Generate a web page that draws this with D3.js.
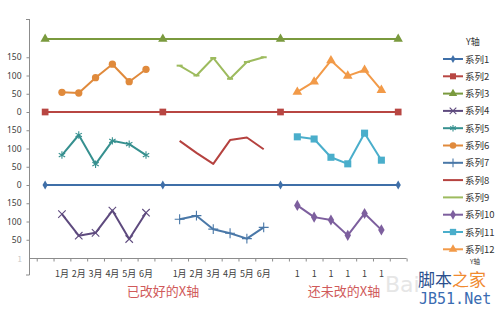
<!DOCTYPE html>
<html><head><meta charset="utf-8">
<script src="https://cdn.jsdelivr.net/npm/d3@7/dist/d3.min.js"></script>
<style>html,body{margin:0;padding:0;background:#fff;}svg{display:block;font-family:"Noto Sans CJK SC","Noto Sans",sans-serif;}</style>
</head><body><svg id="c" width="500" height="309"></svg>
<script>
// ---- data ----
const monthLabels = ["1月","2月","3月","4月","5月","6月"];
const rawLabels = ["1","1","1","1","1","1"];
const yTickValues = [50,100,150,200,250,300,350,400,450,500,550];
const yTickLabels = ["50","100","150","0","50","100","150","0","50","100","150"];
const seriesNames = ["系列1","系列2","系列3","系列4","系列5","系列6","系列7","系列8","系列9","系列10","系列11","系列12"];
const s1 = [200,200,200,200];
const s2 = [200,200,200,200];
const s3 = [200,200,200,200];
const s4 = [120,61,69,130,52,124];
const s5 = [82,137,57,121,112,82];
const s6 = [54,52,94,131,83,117];
const s7 = [106,116,79,68,53,84];
const s8 = [121,88,58,123,130,98];
const s9 = [127,100,148,91,137,150];
const s10 = [144,112,104,62,122,77];
const s11 = [132,126,76,58,142,68];
const s12 = [55,83,141,99,115,60];
const bandOffsets = [0,200,400];           // bottom, middle, top band
const divIdx = [0,7,14,21];               // category positions of divider series
const grp1 = [1,2,3,4,5,6], grp2 = [8,9,10,11,12,13], grp3 = [15,16,17,18,19,20];

// ---- styles ----
const colors = ["#3f6fa8","#b84642","#7a9a3e","#5e4a7e","#36908f","#e08a3c","#4a78a8","#b5423f","#9dbb5e","#7d5f9e","#4aaecb","#f29a48"];
const S = d3;
const markers = [
  {t:S.symbolDiamond,s:24,f:true},{t:S.symbolSquare,s:45,f:true},{t:S.symbolTriangle,s:38,f:true},
  {t:S.symbolTimes,s:38,f:false},{t:S.symbolAsterisk,s:38,f:false},{t:S.symbolCircle,s:42,f:true},
  {t:S.symbolPlus,s:34,f:false},null,{t:"dash"},
  {t:S.symbolDiamond,s:36,f:true},{t:S.symbolSquare,s:50,f:true},{t:S.symbolTriangle,s:40,f:true}
];
const series = [
  {v:s1,x:divIdx,b:0},{v:s2,x:divIdx,b:1},{v:s3,x:divIdx,b:2},
  {v:s4,x:grp1,b:0},{v:s5,x:grp1,b:1},{v:s6,x:grp1,b:2},
  {v:s7,x:grp2,b:0},{v:s8,x:grp2,b:1},{v:s9,x:grp2,b:2},
  {v:s10,x:grp3,b:0},{v:s11,x:grp3,b:1},{v:s12,x:grp3,b:2}
];

const svg = d3.select("#c");
const x = d3.scaleLinear().domain([-0.9,21.5]).range([30,406.6]);
const y = d3.scaleLinear().domain([0,600]).range([258,39]);

// ---- axes ----
const axisColor = "#8c8c8c", textColor = "#404040";
svg.append("line").attr("x1",29.5).attr("x2",29.5).attr("y1",19).attr("y2",275).attr("stroke",axisColor);
svg.append("line").attr("x1",26).attr("x2",29.5).attr("y1",19.5).attr("y2",19.5).attr("stroke",axisColor);
svg.append("line").attr("x1",26).attr("x2",29.5).attr("y1",275).attr("y2",275).attr("stroke",axisColor);
const yg = svg.append("g").attr("transform","translate(29.5,0)")
  .call(d3.axisLeft(y).tickValues(yTickValues).tickSize(3).tickPadding(5).tickFormat((d,i)=>yTickLabels[i]));
yg.select(".domain").remove();
yg.selectAll("line").attr("stroke",axisColor);
yg.selectAll("text").attr("fill",textColor).attr("font-size",8.5).attr("font-family","Noto Sans, sans-serif");
svg.append("text").attr("x",22).attr("y",262).attr("text-anchor","end").attr("font-size",8).attr("fill","#c8c8c8").text("1");

const xTicks = d3.range(-0.5,22,1);
const xg = svg.append("g").attr("transform",`translate(0,${y(0)+0.5})`)
  .call(d3.axisBottom(x).tickValues(xTicks).tickSize(3).tickFormat(""));
xg.select(".domain").attr("stroke",axisColor).attr("d",`M30,0H406.6`);
xg.selectAll("line").attr("stroke",axisColor);

const catLabels = [];
grp1.forEach((c,i)=>catLabels.push({c,t:monthLabels[i]}));
grp2.forEach((c,i)=>catLabels.push({c,t:monthLabels[i]}));
grp3.forEach((c,i)=>catLabels.push({c,t:rawLabels[i]}));
svg.selectAll(".cl").data(catLabels).enter().append("text")
  .attr("x",d=>x(d.c)).attr("y",277).attr("text-anchor","middle")
  .attr("font-size",9).attr("fill",textColor).text(d=>d.t);

// ---- series ----
const line = d3.line();
series.forEach((s,k)=>{
  const pts = s.v.map((v,i)=>[x(s.x[i]), y(v+bandOffsets[s.b])]);
  svg.append("path").attr("d",line(pts)).attr("fill","none")
    .attr("stroke",colors[k]).attr("stroke-width",2).attr("stroke-linejoin","round");
  const m = markers[k];
  if(!m) return;
  pts.forEach(p=>drawMarker(p[0],p[1],k,m));
});
function drawMarker(px,py,k,m){
  if(m.t==="dash"){
    svg.append("line").attr("x1",px-3).attr("x2",px+3).attr("y1",py).attr("y2",py)
      .attr("stroke",colors[k]).attr("stroke-width",2);
    return;
  }
  const p = svg.append("path").attr("d",d3.symbol().type(m.t).size(m.s)()).attr("transform",`translate(${px},${py})`);
  if(m.f) p.attr("fill",colors[k]);
  else p.attr("fill","none").attr("stroke",colors[k]).attr("stroke-width",1.1);
}

// ---- legend ----
svg.append("text").attr("x",466).attr("y",45).attr("font-size",9).attr("fill","#333").text("Y轴");
seriesNames.forEach((n,k)=>{
  const ly = 59 + k*17.3;
  svg.append("line").attr("x1",443).attr("x2",463).attr("y1",ly).attr("y2",ly).attr("stroke",colors[k]).attr("stroke-width",2);
  const m = markers[k];
  if(m && m.t!=="dash") {
    const p = svg.append("path").attr("d",d3.symbol().type(m.t).size(m.s*0.8)()).attr("transform",`translate(453,${ly})`);
    if(m.f) p.attr("fill",colors[k]); else p.attr("fill","none").attr("stroke",colors[k]).attr("stroke-width",1.1);
  }
  svg.append("text").attr("x",465).attr("y",ly+3.5).attr("font-size",9.5).attr("fill","#333").text(n);
});
svg.append("text").attr("x",470).attr("y",264).attr("font-size",6.5).attr("fill","#333").text("Y轴");

// ---- annotations ----
svg.append("text").attr("x",163).attr("y",296).attr("text-anchor","middle").attr("font-size",13).attr("fill","#d05a5a").text("已改好的X轴");
svg.append("text").attr("x",344).attr("y",296).attr("text-anchor","middle").attr("font-size",13).attr("fill","#d05a5a").text("还未改的X轴");

// ---- watermark ----
svg.append("text").attr("x",385).attr("y",292).attr("font-size",22).attr("font-family","DejaVu Sans, sans-serif").attr("fill","#e6e6e6").text("Bai");
const wm = svg.append("text").attr("x",418).attr("y",286).attr("font-size",17);
wm.append("tspan").attr("fill","#2b4f8e").text("脚本");
wm.append("tspan").attr("fill","#f08a30").text("之家");
svg.append("text").attr("x",419).attr("y",304).attr("font-size",15).attr("font-family","DejaVu Sans Mono, monospace").attr("fill","#3a6cb2").text("JB51.Net");
</script></body></html>
